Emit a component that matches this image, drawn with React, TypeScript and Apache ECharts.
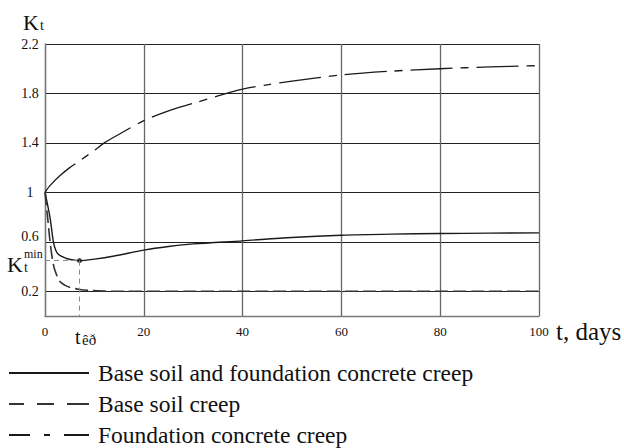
import React, { useEffect, useRef } from "react";
import * as echarts from "echarts";

const xTicks = [0, 20, 40, 60, 80, 100];
const yTicks = [0.2, 0.6, 1, 1.4, 1.8, 2.2];

const combinedT = [0, 1, 1.7, 2.2, 2.7, 3.5, 4.5, 6, 7, 10, 14, 20, 25, 30, 40, 50, 60, 70, 80, 90, 100];
const combinedK = [1, 0.8, 0.6, 0.53, 0.5, 0.48, 0.463, 0.451, 0.448, 0.46, 0.485, 0.533, 0.562, 0.583, 0.608, 0.635, 0.653, 0.662, 0.667, 0.67, 0.672];

const soilT = [0, 0.5, 1, 1.5, 2, 3, 4, 5, 7, 9, 12, 15, 30, 50, 70, 100];
const soilK = [1, 0.81, 0.61, 0.46, 0.37, 0.28, 0.25, 0.232, 0.215, 0.207, 0.202, 0.2, 0.2, 0.2, 0.2, 0.2];

const concreteT = [0, 1, 3, 5, 7, 10, 12, 15, 20, 25, 30, 35, 40, 45, 50, 60, 70, 80, 90, 100];
const concreteK = [1, 1.055, 1.134, 1.2, 1.255, 1.34, 1.4, 1.47, 1.58, 1.66, 1.72, 1.78, 1.835, 1.87, 1.9, 1.95, 1.98, 2.0, 2.015, 2.025];

const tCr = 7;
const kMin = 0.448;

const seriesNames = [
  "Base soil and foundation concrete creep",
  "Base soil creep",
  "Foundation concrete creep",
];

const FONT = "'Liberation Serif', serif";

const zip = (xs: number[], ys: number[]) => xs.map((x, i) => [x, ys[i]]);

export default function App() {
  const ref = useRef<HTMLDivElement>(null);
  useEffect(() => {
    if (!ref.current) return;
    const chart = echarts.init(ref.current, null, { renderer: "svg" });
    const lineColor = "#1a1a1a";
    chart.setOption({
      animation: false,
      backgroundColor: "#fff",
      textStyle: { fontFamily: FONT },
      grid: { left: 45, top: 44, right: 85, bottom: 132, containLabel: false },
      xAxis: {
        type: "value",
        min: xTicks[0],
        max: xTicks[xTicks.length - 1],
        interval: 20,
        axisLine: { show: true, lineStyle: { color: "#777", width: 1.3 } },
        axisTick: { show: false },
        axisLabel: {
          color: "#111",
          margin: 9,
          formatter: (v: number) => `{a|${v}}`,
          rich: { a: { fontFamily: FONT, fontSize: 13, color: "#111" } },
        },
        splitLine: { show: true, lineStyle: { color: "#666", width: 1.3 } },
      },
      yAxis: {
        type: "value",
        min: 0,
        max: 2.2,
        axisLine: { show: true, lineStyle: { color: "#777", width: 1.3 } },
        axisTick: { show: false, customValues: yTicks },
        axisLabel: {
          customValues: yTicks,
          fontFamily: FONT,
          fontSize: 14,
          color: "#111",
          align: "center",
          margin: 15,
          formatter: (v: number) => (Math.abs(v - 0.6) < 1e-6 ? "{up|0.6}" : String(Math.round(v * 10) / 10)),
          rich: { up: { fontFamily: FONT, fontSize: 14, color: "#111", padding: [0, 0, 10, 0] } },
        },
        splitLine: { show: true, lineStyle: { color: "#222", width: 1 } },
      },
      legend: {
        orient: "vertical",
        left: 8,
        top: 361,
        padding: 0,
        height: 120,
        itemWidth: 80,
        itemHeight: 14,
        itemGap: 7,
        itemStyle: { opacity: 0 },
        textStyle: { fontFamily: FONT, fontSize: 23.5, lineHeight: 22, color: "#111", padding: [0, 0, 0, 4] },
        data: [
          { name: seriesNames[0], lineStyle: { type: "solid" } },
          { name: seriesNames[1], lineStyle: { type: [15, 13, 17, 13, 22] } },
          { name: seriesNames[2], lineStyle: { type: [21, 14, 6, 14, 25] } },
        ],
      },
      series: [
        {
          name: seriesNames[0],
          type: "line",
          data: zip(combinedT, combinedK),
          symbol: "none",
          smooth: 0.3,
          lineStyle: { color: lineColor, width: 1.4, type: "solid" },
          itemStyle: { color: lineColor },
          markLine: {
            silent: true,
            symbol: ["none", "none"],
            label: { show: false },
            lineStyle: { color: "#888", width: 1, type: [5, 4] },
            data: [
              [{ coord: [0, kMin] }, { coord: [tCr, kMin] }],
              [{ coord: [tCr, kMin] }, { coord: [tCr, 0] }],
            ],
          },
        },
        {
          name: seriesNames[1],
          type: "line",
          data: zip(soilT, soilK),
          symbol: "none",
          smooth: 0.3,
          lineStyle: { color: "#333", width: 1.6, type: [13, 5] },
          itemStyle: { color: "#333" },
        },
        {
          name: seriesNames[2],
          type: "line",
          data: zip(concreteT, concreteK),
          symbol: "none",
          smooth: 0.3,
          lineStyle: { color: lineColor, width: 1.3, type: [42, 8, 8, 8] },
          itemStyle: { color: lineColor },
        },
        {
          name: "min",
          type: "scatter",
          data: [[tCr, kMin]],
          symbolSize: 5,
          itemStyle: { color: "#111" },
          silent: true,
        },
      ],
      graphic: [
        { type: "text", x: 23, y: 22, style: { text: "K", font: `22px ${FONT}`, fill: "#111", verticalAlign: "middle" } },
        { type: "text", x: 40, y: 25, style: { text: "t", font: `14px ${FONT}`, fill: "#111", verticalAlign: "middle" } },
        { type: "text", x: 7, y: 264, style: { text: "K", font: `22px ${FONT}`, fill: "#111", verticalAlign: "middle" } },
        { type: "text", x: 24, y: 267, style: { text: "t", font: `14px ${FONT}`, fill: "#111", verticalAlign: "middle" } },
        { type: "text", x: 24, y: 254, style: { text: "min", font: `12px ${FONT}`, fill: "#111", verticalAlign: "middle" } },
        { type: "text", x: 75, y: 337, style: { text: "t", font: `20px ${FONT}`, fill: "#111", verticalAlign: "middle" } },
        { type: "text", x: 82, y: 340, style: { text: "êð", font: `15px ${FONT}`, fill: "#111", verticalAlign: "middle" } },
        { type: "text", x: 556, y: 331, style: { text: "t, days", font: `25px ${FONT}`, fill: "#111", verticalAlign: "middle" } },
      ],
    });
    return () => chart.dispose();
  }, []);
  return <div ref={ref} style={{ position: "fixed", left: 0, top: 0, width: 624, height: 448 }} />;
}
